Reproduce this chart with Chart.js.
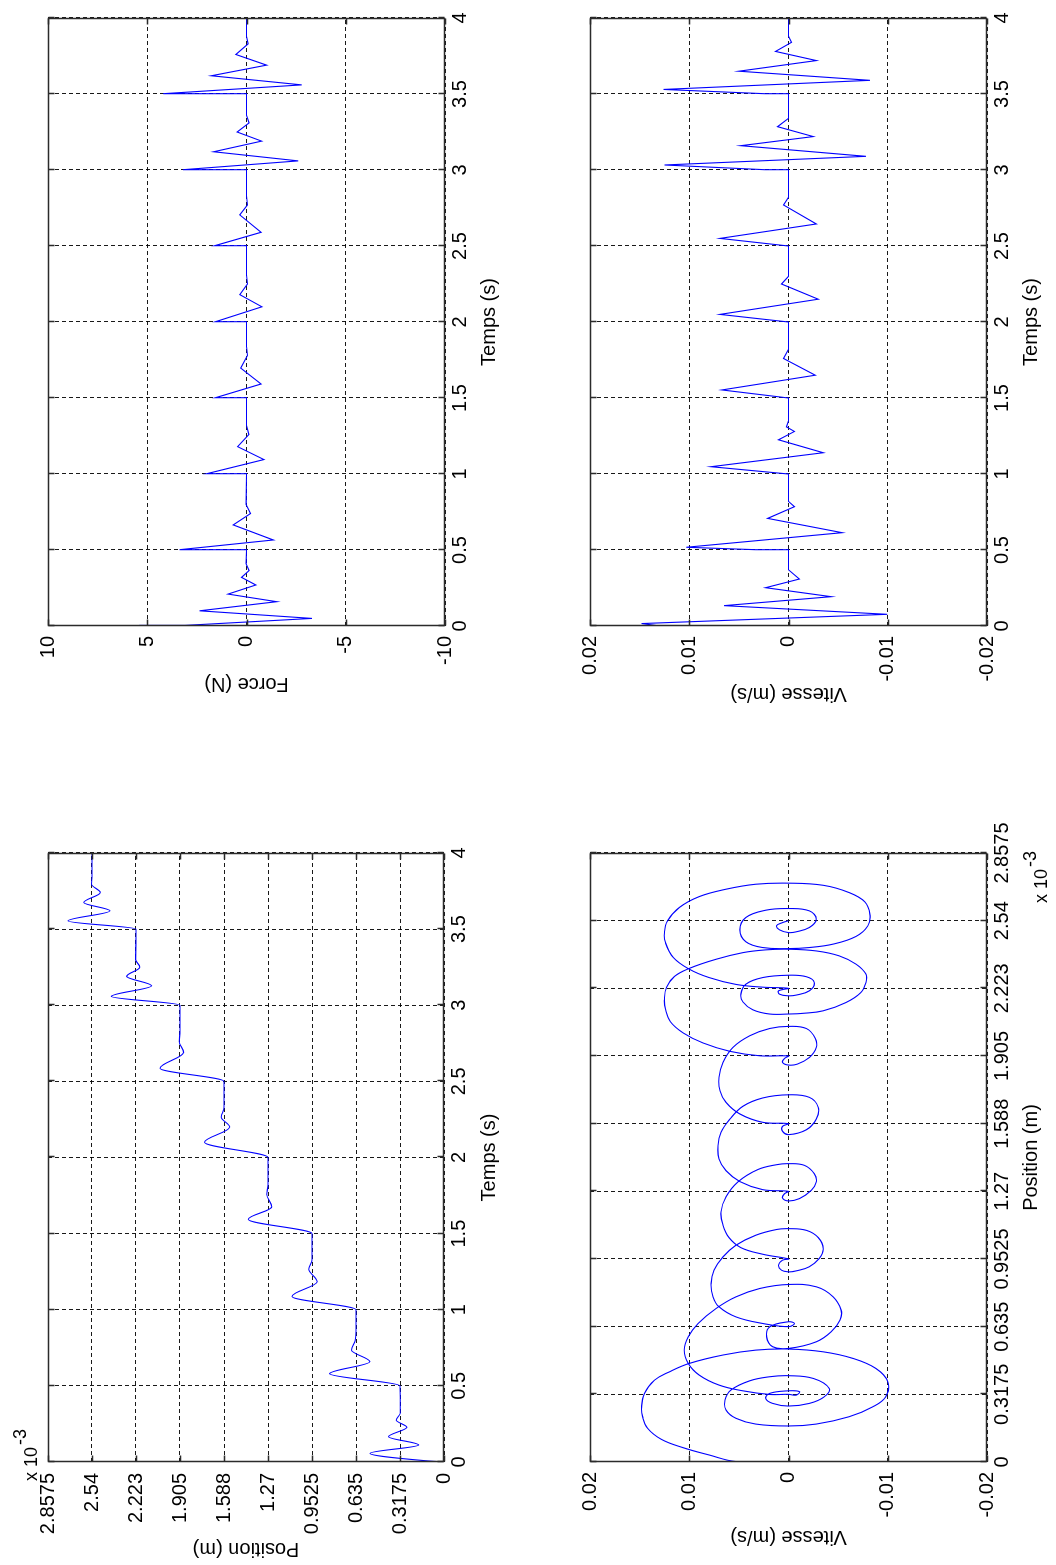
<!DOCTYPE html>
<html>
<head>
<meta charset="utf-8">
<title>Position, force et vitesse</title>
<script src="https://cdn.jsdelivr.net/npm/chart.js@4.4.1/dist/chart.umd.min.js"></script>
<style>
  html, body { margin: 0; padding: 0; background: #fff; overflow: hidden; }
  /* the figure is drawn upright and then turned a quarter turn to the left */
  #figure {
    position: absolute; left: 0; top: 0;
    width: 1565px; height: 1056px;
    transform-origin: 0 0;
    transform: translateY(1565px) rotate(-90deg);
  }
  #figure canvas { position: absolute; }
</style>
</head>
<body>
<div id="figure">
  <canvas id="posChart" width="782" height="528" style="left:0;top:0;width:782px;height:528px"></canvas>
  <canvas id="forceChart" width="783" height="528" style="left:782px;top:0;width:783px;height:528px"></canvas>
  <canvas id="phaseChart" width="782" height="528" style="left:0;top:528px;width:782px;height:528px"></canvas>
  <canvas id="speedChart" width="783" height="528" style="left:782px;top:528px;width:783px;height:528px"></canvas>
</div>
<script>
// ticks
const timeTicks = [0, 0.5, 1, 1.5, 2, 2.5, 3, 3.5, 4];
const timeLabels = ['0', '0.5', '1', '1.5', '2', '2.5', '3', '3.5', '4'];
const posTicks = [0, 0.3175, 0.635, 0.9525, 1.27, 1.5875, 1.905, 2.2225, 2.54, 2.8575];
const posLabels = ['0', '0.3175', '0.635', '0.9525', '1.27', '1.588', '1.905', '2.223', '2.54', '2.8575'];
const forceTicks = [-10, -5, 0, 5, 10];
const forceLabels = ['-10', '-5', '0', '5', '10'];
const speedTicks = [-0.02, -0.01, 0, 0.01, 0.02];
const speedLabels = ['-0.02', '-0.01', '0', '0.01', '0.02'];

// position (x 10^-3 m) against time (s)
const positionData = [
  [0, 0], [0.008, 0.13], [0.057, 0.534], [0.112, 0.183], [0.166, 0.401], [0.228, 0.268],
  [0.275, 0.345], [0.32, 0.316], [0.5, 0.3175],
  [0.58, 0.825], [0.659, 0.535], [0.735, 0.668], [0.8, 0.64], [0.86, 0.635], [1.0, 0.635],
  [1.087, 1.097], [1.185, 0.915], [1.267, 0.976], [1.33, 0.952], [1.5, 0.9525],
  [1.594, 1.413], [1.676, 1.243], [1.758, 1.279], [1.82, 1.27], [2.0, 1.27],
  [2.1, 1.728], [2.2, 1.546], [2.265, 1.607], [2.33, 1.5875], [2.5, 1.5875],
  [2.586, 2.049], [2.69, 1.879], [2.76, 1.91], [2.83, 1.905], [3.0, 1.905],
  [3.058, 2.4], [3.128, 2.11], [3.19, 2.29], [3.25, 2.195], [3.3, 2.225], [3.5, 2.2225],
  [3.554, 2.713], [3.62, 2.41], [3.675, 2.6], [3.74, 2.48], [3.795, 2.544], [3.85, 2.54], [4.0, 2.54]
];

// force (N) against time (s)
const forceData = [
  [0, 5.4], [0.004, 3.1], [0.05, -3.3], [0.1, 2.36], [0.16, -1.52], [0.21, 0.93], [0.27, -0.47],
  [0.32, 0.25], [0.365, -0.13], [0.41, 0.02], [0.5, 0],
  [0.502, 3.37], [0.566, -1.35], [0.665, 0.67], [0.74, -0.2], [0.8, 0.02], [1.0, 0],
  [1.002, 2.0], [1.095, -0.88], [1.18, 0.45], [1.26, -0.12], [1.32, 0], [1.5, 0],
  [1.502, 1.56], [1.592, -0.73], [1.697, 0.29], [1.78, -0.05], [1.84, 0], [2.0, 0],
  [2.002, 1.56], [2.1, -0.78], [2.18, 0.34], [2.25, -0.05], [2.31, 0], [2.5, 0],
  [2.502, 1.6], [2.59, -0.73], [2.705, 0.34], [2.77, -0.05], [2.83, 0], [3.0, 0],
  [3.002, 3.2], [3.06, -2.61], [3.12, 1.65], [3.19, -0.76], [3.25, 0.47], [3.31, -0.13], [3.36, 0], [3.5, 0],
  [3.502, 4.2], [3.56, -2.78], [3.62, 1.77], [3.69, -1.01], [3.76, 0.54], [3.83, -0.08], [3.88, 0], [4.0, 0]
];

// vitesse (m/s) against time (s)
const speedData = [
  [0, 0], [0.003, 0.0133], [0.016, 0.0148], [0.077, -0.00995], [0.134, 0.0065], [0.193, -0.0043],
  [0.252, 0.0023], [0.309, -0.0011], [0.37, 0], [0.5, 0],
  [0.502, 0.0033], [0.518, 0.0103], [0.614, -0.0054], [0.708, 0.0021], [0.785, -0.0006], [0.82, 0], [1.0, 0],
  [1.048, 0.0078], [1.14, -0.0035], [1.225, 0.001], [1.28, -0.0006], [1.31, 0.0002], [1.35, 0], [1.5, 0],
  [1.553, 0.0067], [1.65, -0.0027], [1.76, 0.0005], [1.82, 0], [2.0, 0],
  [2.05, 0.0069], [2.15, -0.003], [2.25, 0.0007], [2.3, 0], [2.5, 0],
  [2.55, 0.0069], [2.645, -0.0028], [2.77, 0.0005], [2.82, 0], [3.0, 0],
  [3.002, 0.0024], [3.033, 0.0125], [3.09, -0.0078], [3.16, 0.0048], [3.22, -0.0025], [3.285, 0.0011], [3.34, 0], [3.5, 0],
  [3.502, 0.0024], [3.53, 0.0126], [3.59, -0.0082], [3.65, 0.005], [3.72, -0.0028], [3.78, 0.0013], [3.84, -0.0003], [3.88, 0], [4.0, 0]
];

// vitesse (m/s) against position (x 10^-3 m)
const phaseData = [
  [0, 0], [0.002, 0.0053], [0.033, 0.008], [0.067, 0.0106], [0.106, 0.0128], [0.158, 0.0142],
  [0.2125, 0.0147], [0.259, 0.0148], [0.322, 0.0145], [0.384, 0.0135], [0.423, 0.012], [0.4625, 0.01],
  [0.502, 0.0066], [0.525, 0.0033], [0.53, 0], [0.517, -0.0035], [0.486, -0.0065], [0.439, -0.0088],
  [0.377, -0.01], [0.306, -0.0098], [0.259, -0.0085], [0.2125, -0.0061], [0.178, -0.0028], [0.169, 0],
  [0.178, 0.0033], [0.205, 0.0053], [0.244, 0.0063], [0.291, 0.0064], [0.3375, 0.0058], [0.381, 0.0039],
  [0.4, 0.0019], [0.405, 0], [0.392, -0.0025], [0.345, -0.0041], [0.306, -0.0036], [0.275, -0.0021],
  [0.2625, 0], [0.275, 0.0016], [0.298, 0.0023], [0.322, 0.0019], [0.334, 0], [0.33, -0.0011],
  [0.314, -0.0008], [0.3175, 0],
  [0.317, 0.0019], [0.334, 0.0046], [0.361, 0.007], [0.408, 0.009], [0.4625, 0.0101], [0.525, 0.0105],
  [0.5875, 0.0101], [0.65, 0.0091], [0.72, 0.0073], [0.775, 0.0053], [0.814, 0.0029], [0.833, 0],
  [0.822, -0.0028], [0.775, -0.0045], [0.7125, -0.0053], [0.666, -0.0052], [0.611, -0.0043], [0.564, -0.0028],
  [0.533, 0], [0.541, 0.0016], [0.5875, 0.0022], [0.634, 0.0019], [0.658, 0], [0.65, -0.0006], [0.635, 0],
  [0.65, 0.0026], [0.681, 0.0053], [0.728, 0.007], [0.775, 0.0076], [0.8375, 0.0078], [0.9, 0.0075],
  [0.9625, 0.0066], [1.017, 0.0053], [1.064, 0.0033], [1.091, 0.0012], [1.095, 0], [1.087, -0.0018],
  [1.053, -0.003], [1.0, -0.0035], [0.955, -0.0031], [0.916, -0.0021], [0.897, -0.0008], [0.892, 0],
  [0.9, 0.0007], [0.923, 0.001], [0.947, 0.0006], [0.9525, 0],
  [0.975, 0.0026], [1.006, 0.0048], [1.053, 0.006], [1.111, 0.0066], [1.173, 0.0068], [1.244, 0.0063],
  [1.314, 0.0051], [1.372, 0.0031], [1.395, 0.0012], [1.4, 0], [1.392, -0.0016], [1.353, -0.0026],
  [1.314, -0.0028], [1.275, -0.0023], [1.236, -0.0011], [1.225, 0], [1.239, 0.0006], [1.259, 0.0004], [1.27, 0],
  [1.278, 0.0026], [1.316, 0.0049], [1.367, 0.0063], [1.422, 0.007], [1.484, 0.0071], [1.547, 0.0068],
  [1.609, 0.0059], [1.669, 0.0046], [1.708, 0.0026], [1.723, 0], [1.711, -0.0021], [1.664, -0.003],
  [1.609, -0.0028], [1.559, -0.0018], [1.536, 0], [1.552, 0.0006], [1.575, 0.0006], [1.5875, 0],
  [1.594, 0.0026], [1.633, 0.0049], [1.6875, 0.0063], [1.742, 0.0069], [1.805, 0.007], [1.875, 0.0066],
  [1.945, 0.0056], [2.0, 0.0039], [2.034, 0.0019], [2.044, 0], [2.034, -0.0018], [1.988, -0.0027],
  [1.945, -0.0028], [1.898, -0.0021], [1.867, -0.0009], [1.8625, 0], [1.875, 0.0006], [1.894, 0.0004], [1.905, 0],
  [1.906, 0.0029], [1.927, 0.0059], [1.966, 0.0086], [2.013, 0.0106], [2.066, 0.0119], [2.125, 0.0124],
  [2.172, 0.0125], [2.227, 0.0123], [2.278, 0.0115], [2.316, 0.01], [2.359, 0.0073], [2.39, 0.0046],
  [2.403, 0.0023], [2.406, 0], [2.398, -0.0028], [2.375, -0.0051], [2.336, -0.0068], [2.289, -0.0078],
  [2.25, -0.0078], [2.203, -0.0073], [2.156, -0.0058], [2.117, -0.0035], [2.105, -0.0014], [2.102, 0],
  [2.102, 0.0019], [2.122, 0.0036], [2.159, 0.0046], [2.195, 0.0048], [2.242, 0.0043], [2.273, 0.0026],
  [2.284, 0], [2.277, -0.0018], [2.25, -0.0026], [2.211, -0.0021], [2.191, -0.0008], [2.1875, 0],
  [2.195, 0.0009], [2.211, 0.001], [2.2225, 0],
  [2.228, 0.0026], [2.241, 0.0053], [2.273, 0.008], [2.3125, 0.01], [2.367, 0.0116], [2.4375, 0.0124],
  [2.484, 0.0125], [2.539, 0.0122], [2.602, 0.011], [2.653, 0.009], [2.6875, 0.0063], [2.711, 0.0033],
  [2.716, 0], [2.706, -0.0035], [2.672, -0.0061], [2.628, -0.0077], [2.57, -0.0082], [2.516, -0.008],
  [2.466, -0.0068], [2.43, -0.0045], [2.414, -0.0021], [2.409, 0], [2.414, 0.0026], [2.441, 0.0043],
  [2.497, 0.0049], [2.555, 0.0043], [2.589, 0.0023], [2.597, 0], [2.586, -0.0021], [2.547, -0.0028],
  [2.508, -0.0021], [2.488, -0.0008], [2.484, 0], [2.497, 0.0009], [2.516, 0.0012], [2.531, 0.0006], [2.54, 0]
];

const FONT_FAMILY = '"Liberation Sans", Arial, Helvetica, sans-serif';
const labelFont = { family: FONT_FAMILY, size: 20 };
const gridColor = 'rgba(0,0,0,0.9)';

// Matlab-like axis: fixed size so every plot box lands where it should
function axis(o) {
  const horizontal = o.position === 'bottom';
  return {
    type: 'linear',
    position: o.position,
    min: o.min,
    max: o.max,
    afterBuildTicks: (scale) => { scale.ticks = o.ticks.map(v => ({ value: v })); },
    afterFit: (scale) => {
      if (horizontal) {
        scale.height = o.size; scale.paddingLeft = 0; scale.paddingRight = 0;
      } else {
        scale.width = o.size; scale.paddingTop = 0; scale.paddingBottom = 0;
      }
    },
    ticks: {
      autoSkip: false, maxRotation: 0, minRotation: 0,
      padding: o.tickPad, color: '#000', font: labelFont,
      callback: (value, i) => o.labels[i]
    },
    grid: { color: gridColor, lineWidth: 1, drawTicks: false, borderDash: [4, 3] },
    border: { display: false, dash: [4, 3] },
    title: {
      display: true, text: o.title, color: '#000', font: labelFont,
      padding: horizontal ? { top: 0, bottom: o.titlePad } : { top: o.titlePad, bottom: 0 }
    }
  };
}

// box around the plot with small inward tick marks on all four sides
const framePlugin = {
  id: 'frame',
  afterDatasetsDraw(chart) {
    const { ctx, chartArea: a, scales } = chart;
    const L = Math.round(a.left) + 0.5, R = Math.round(a.right) - 0.5;
    const T = Math.round(a.top) + 0.5, B = Math.round(a.bottom) - 0.5;
    const len = 6;
    ctx.save();
    ctx.strokeStyle = '#2b2b2b';
    ctx.lineWidth = 1.5;
    ctx.beginPath();
    scales.x.ticks.forEach(t => {
      const px = Math.round(scales.x.getPixelForValue(t.value)) + 0.5;
      ctx.moveTo(px, B); ctx.lineTo(px, B - len);
      ctx.moveTo(px, T); ctx.lineTo(px, T + len);
    });
    scales.y.ticks.forEach(t => {
      const py = Math.round(scales.y.getPixelForValue(t.value)) + 0.5;
      ctx.moveTo(L, py); ctx.lineTo(L + len, py);
      ctx.moveTo(R, py); ctx.lineTo(R - len, py);
    });
    ctx.stroke();
    ctx.strokeRect(L, T, R - L, B - T);
    ctx.restore();
  }
};

// the "x 10^-3" multiplier text
const exponentPlugin = {
  id: 'exponent',
  afterDraw(chart, args, opts) {
    if (!opts || !opts.base) return;
    const ctx = chart.ctx;
    ctx.save();
    ctx.fillStyle = '#000';
    ctx.textBaseline = 'alphabetic';
    ctx.textAlign = 'left';
    ctx.font = '18px ' + FONT_FAMILY;
    const baseW = ctx.measureText(opts.base).width;
    const expW = ctx.measureText(opts.exp).width;
    const x0 = opts.align === 'right' ? opts.x - baseW - expW - 2 : opts.x;
    ctx.fillText(opts.base, x0, opts.y);
    ctx.fillText(opts.exp, x0 + baseW + 2, opts.y - 11);
    ctx.restore();
  }
};

function plot(id, data, xAxis, yAxis, lineOpts, padding, exponent) {
  return new Chart(document.getElementById(id), {
    type: 'scatter',
    data: {
      datasets: [Object.assign({
        data: data.map(([x, y]) => ({ x, y })),
        showLine: true,
        borderColor: '#0000ff',
        borderWidth: 1.1,
        pointRadius: 0,
        fill: false
      }, lineOpts)]
    },
    options: {
      responsive: false,
      animation: false,
      devicePixelRatio: 1,
      events: [],
      layout: { padding },
      scales: { x: xAxis, y: yAxis },
      plugins: {
        legend: { display: false },
        tooltip: { enabled: false },
        exponent: exponent || {}
      }
    },
    plugins: [framePlugin, exponentPlugin]
  });
}

// Position vs Temps
plot('posChart', positionData,
  axis({ position: 'bottom', min: 0, max: 4, ticks: timeTicks, labels: timeLabels, title: 'Temps (s)', size: 84, tickPad: 3, titlePad: 27 }),
  axis({ position: 'left', min: 0, max: 2.8575, ticks: posTicks, labels: posLabels, title: 'Position (m)', size: 103, tickPad: 11, titlePad: 4 }),
  { cubicInterpolationMode: 'monotone' },
  { left: 0, top: 48, right: 70, bottom: 0 },
  { base: 'x 10', exp: '-3', x: 84, y: 37, align: 'left' });

// Force vs Temps
plot('forceChart', forceData,
  axis({ position: 'bottom', min: 0, max: 4, ticks: timeTicks, labels: timeLabels, title: 'Temps (s)', size: 83, tickPad: 3, titlePad: 27 }),
  axis({ position: 'left', min: -10, max: 10, ticks: forceTicks, labels: forceLabels, title: 'Force (N)', size: 157, tickPad: 10, titlePad: 87 }),
  { tension: 0 },
  { left: 0, top: 48, right: 18, bottom: 0 });

// Vitesse vs Position
plot('phaseChart', phaseData,
  axis({ position: 'bottom', min: 0, max: 2.8575, ticks: posTicks, labels: posLabels, title: 'Position (m)', size: 69, tickPad: 3, titlePad: 13 }),
  axis({ position: 'left', min: -0.02, max: 0.02, ticks: speedTicks, labels: speedLabels, title: 'Vitesse (m/s)', size: 103, tickPad: 10, titlePad: 16 }),
  { tension: 0.4 },
  { left: 0, top: 62, right: 70, bottom: 0 },
  { base: 'x 10', exp: '-3', x: 714, y: 519, align: 'right' });

// Vitesse vs Temps
plot('speedChart', speedData,
  axis({ position: 'bottom', min: 0, max: 4, ticks: timeTicks, labels: timeLabels, title: 'Temps (s)', size: 69, tickPad: 3, titlePad: 13 }),
  axis({ position: 'left', min: -0.02, max: 0.02, ticks: speedTicks, labels: speedLabels, title: 'Vitesse (m/s)', size: 157, tickPad: 10, titlePad: 77 }),
  { tension: 0 },
  { left: 0, top: 62, right: 18, bottom: 0 });
</script>
</body>
</html>
